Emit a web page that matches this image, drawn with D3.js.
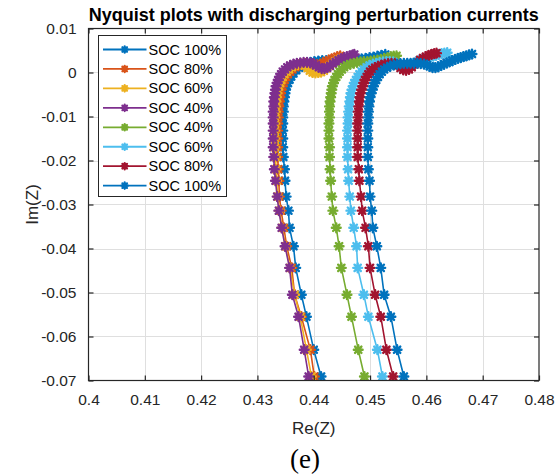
<!DOCTYPE html>
<html>
<head>
<meta charset="utf-8">
<script src="https://cdn.jsdelivr.net/npm/d3@7"></script>
<style>
  html, body { margin: 0; padding: 0; background: #fff; }
  svg { display: block; }
  text { font-family: "Liberation Sans", Arial, Helvetica, sans-serif; }
</style>
</head>
<body>
<svg id="chart" width="557" height="476"></svg>
<script>
// Nyquist data, [Re(Z), Im(Z)] from high to low frequency
const soc100a = [[0.4413,-0.0691],[0.4400,-0.0630],[0.4387,-0.0555],[0.4378,-0.0505],[0.4368,-0.0444],[0.4364,-0.0395],[0.4357,-0.0353],[0.4355,-0.0314],[0.4351,-0.0282],[0.4349,-0.0246],[0.4348,-0.0220],[0.4346,-0.0192],[0.4345,-0.0170],[0.4345,-0.0150],[0.4345,-0.0132],[0.4345,-0.0116],[0.4345,-0.0102],[0.4346,-0.0089],[0.4346,-0.0077],[0.4347,-0.0066],[0.4348,-0.0056],[0.4349,-0.0047],[0.4350,-0.0039],[0.4352,-0.0031],[0.4354,-0.0024],[0.4357,-0.0016],[0.4360,-0.0009],[0.4364,-0.0002],[0.4369,0.0005],[0.4374,0.0011],[0.4380,0.0016],[0.4387,0.0020],[0.4394,0.0023],[0.4401,0.0025],[0.4408,0.0026],[0.4415,0.0027],[0.4422,0.0027],[0.4429,0.0027],[0.4436,0.0027],[0.4443,0.0027],[0.4450,0.0028],[0.4457,0.0028],[0.4464,0.0029],[0.4471,0.0029],[0.4478,0.0030],[0.4485,0.0031],[0.4492,0.0032],[0.4499,0.0034],[0.4506,0.0035],[0.4513,0.0037],[0.4520,0.0039],[0.4527,0.0041]];
const soc80a = [[0.4401,-0.0691],[0.4394,-0.0630],[0.4378,-0.0555],[0.4366,-0.0505],[0.4361,-0.0444],[0.4352,-0.0395],[0.4347,-0.0353],[0.4342,-0.0314],[0.4339,-0.0282],[0.4338,-0.0246],[0.4337,-0.0220],[0.4336,-0.0192],[0.4336,-0.0170],[0.4336,-0.0150],[0.4336,-0.0132],[0.4336,-0.0116],[0.4337,-0.0102],[0.4337,-0.0089],[0.4338,-0.0077],[0.4339,-0.0066],[0.4340,-0.0056],[0.4341,-0.0047],[0.4342,-0.0039],[0.4344,-0.0031],[0.4346,-0.0024],[0.4348,-0.0017],[0.4351,-0.0010],[0.4354,-0.0004],[0.4358,0.0002],[0.4362,0.0007],[0.4367,0.0012],[0.4373,0.0016],[0.4379,0.0018],[0.4386,0.0020],[0.4393,0.0020],[0.4400,0.0019],[0.4406,0.0018],[0.4412,0.0019],[0.4417,0.0022],[0.4422,0.0025],[0.4427,0.0028],[0.4432,0.0031],[0.4437,0.0033],[0.4442,0.0036],[0.4447,0.0038]];
const soc60a = [[0.4396,-0.0691],[0.4387,-0.0630],[0.4376,-0.0555],[0.4366,-0.0505],[0.4358,-0.0444],[0.4350,-0.0395],[0.4344,-0.0353],[0.4339,-0.0314],[0.4336,-0.0282],[0.4334,-0.0246],[0.4333,-0.0220],[0.4332,-0.0192],[0.4331,-0.0170],[0.4331,-0.0150],[0.4331,-0.0132],[0.4331,-0.0116],[0.4331,-0.0102],[0.4332,-0.0089],[0.4332,-0.0077],[0.4333,-0.0066],[0.4334,-0.0056],[0.4335,-0.0047],[0.4336,-0.0039],[0.4338,-0.0031],[0.4340,-0.0024],[0.4342,-0.0017],[0.4345,-0.0010],[0.4348,-0.0004],[0.4352,0.0002],[0.4356,0.0007],[0.4361,0.0012],[0.4366,0.0016],[0.4372,0.0018],[0.4378,0.0019],[0.4384,0.0016],[0.4389,0.0010],[0.4393,0.0004],[0.4398,0.0000],[0.4403,-0.0001],[0.4408,0.0000],[0.4413,0.0001],[0.4418,0.0004],[0.4423,0.0009],[0.4428,0.0015],[0.4433,0.0020],[0.4438,0.0025],[0.4443,0.0029],[0.4448,0.0032]];
const soc40a = [[0.4391,-0.0691],[0.4383,-0.0630],[0.4373,-0.0555],[0.4362,-0.0505],[0.4357,-0.0444],[0.4349,-0.0395],[0.4343,-0.0353],[0.4338,-0.0314],[0.4335,-0.0282],[0.4332,-0.0246],[0.4330,-0.0220],[0.4329,-0.0192],[0.4328,-0.0170],[0.4328,-0.0150],[0.4328,-0.0132],[0.4328,-0.0116],[0.4328,-0.0102],[0.4328,-0.0089],[0.4329,-0.0077],[0.4329,-0.0066],[0.4330,-0.0056],[0.4331,-0.0047],[0.4332,-0.0039],[0.4333,-0.0031],[0.4335,-0.0024],[0.4337,-0.0017],[0.4339,-0.0010],[0.4342,-0.0004],[0.4345,0.0002],[0.4349,0.0007],[0.4353,0.0012],[0.4358,0.0016],[0.4364,0.0019],[0.4370,0.0021],[0.4376,0.0022],[0.4382,0.0023],[0.4388,0.0023],[0.4394,0.0022],[0.4399,0.0020],[0.4404,0.0016],[0.4409,0.0012],[0.4414,0.0009],[0.4419,0.0009],[0.4424,0.0011],[0.4429,0.0015],[0.4434,0.0020],[0.4439,0.0024],[0.4444,0.0028],[0.4449,0.0031],[0.4454,0.0034],[0.4459,0.0036],[0.4464,0.0038],[0.4469,0.0040],[0.4472,0.0041]];
const soc40b = [[0.4490,-0.0691],[0.4479,-0.0630],[0.4467,-0.0555],[0.4459,-0.0505],[0.4449,-0.0444],[0.4445,-0.0395],[0.4440,-0.0353],[0.4434,-0.0314],[0.4432,-0.0282],[0.4430,-0.0246],[0.4429,-0.0220],[0.4428,-0.0192],[0.4428,-0.0170],[0.4427,-0.0150],[0.4427,-0.0132],[0.4427,-0.0116],[0.4428,-0.0102],[0.4428,-0.0089],[0.4428,-0.0077],[0.4429,-0.0066],[0.4430,-0.0056],[0.4431,-0.0047],[0.4432,-0.0039],[0.4433,-0.0031],[0.4435,-0.0024],[0.4437,-0.0017],[0.4440,-0.0010],[0.4443,-0.0004],[0.4446,0.0002],[0.4450,0.0007],[0.4454,0.0012],[0.4459,0.0016],[0.4465,0.0019],[0.4471,0.0021],[0.4477,0.0023],[0.4483,0.0024],[0.4489,0.0025],[0.4495,0.0025],[0.4501,0.0026],[0.4507,0.0027],[0.4513,0.0028],[0.4519,0.0030],[0.4525,0.0032],[0.4531,0.0034],[0.4537,0.0036],[0.4542,0.0037],[0.4547,0.0038]];
const soc60b = [[0.4522,-0.0691],[0.4513,-0.0630],[0.4497,-0.0555],[0.4489,-0.0505],[0.4478,-0.0444],[0.4476,-0.0395],[0.4471,-0.0353],[0.4466,-0.0314],[0.4464,-0.0282],[0.4462,-0.0246],[0.4461,-0.0220],[0.4460,-0.0192],[0.4460,-0.0170],[0.4460,-0.0150],[0.4460,-0.0132],[0.4461,-0.0116],[0.4461,-0.0102],[0.4462,-0.0089],[0.4463,-0.0077],[0.4464,-0.0066],[0.4465,-0.0056],[0.4466,-0.0047],[0.4468,-0.0039],[0.4470,-0.0031],[0.4472,-0.0024],[0.4475,-0.0017],[0.4478,-0.0010],[0.4481,-0.0004],[0.4485,0.0002],[0.4489,0.0007],[0.4494,0.0012],[0.4499,0.0016],[0.4505,0.0019],[0.4511,0.0021],[0.4517,0.0023],[0.4523,0.0024],[0.4529,0.0025],[0.4535,0.0025],[0.4541,0.0024],[0.4547,0.0021],[0.4552,0.0016],[0.4557,0.0012],[0.4562,0.0011],[0.4567,0.0013],[0.4572,0.0017],[0.4577,0.0021],[0.4582,0.0024],[0.4587,0.0027],[0.4592,0.0029],[0.4597,0.0031],[0.4602,0.0033],[0.4607,0.0035],[0.4612,0.0037],[0.4617,0.0039],[0.4622,0.0041],[0.4627,0.0043],[0.4632,0.0044],[0.4637,0.0045]];
const soc80b = [[0.4541,-0.0691],[0.4529,-0.0630],[0.4519,-0.0555],[0.4509,-0.0505],[0.4500,-0.0444],[0.4497,-0.0395],[0.4492,-0.0353],[0.4486,-0.0314],[0.4484,-0.0282],[0.4481,-0.0246],[0.4480,-0.0220],[0.4478,-0.0192],[0.4478,-0.0170],[0.4478,-0.0150],[0.4478,-0.0132],[0.4478,-0.0116],[0.4479,-0.0102],[0.4479,-0.0089],[0.4480,-0.0077],[0.4481,-0.0066],[0.4482,-0.0056],[0.4483,-0.0047],[0.4485,-0.0039],[0.4487,-0.0031],[0.4489,-0.0024],[0.4491,-0.0017],[0.4494,-0.0010],[0.4497,-0.0004],[0.4500,0.0002],[0.4504,0.0007],[0.4509,0.0011],[0.4514,0.0014],[0.4520,0.0017],[0.4526,0.0019],[0.4532,0.0020],[0.4538,0.0021],[0.4544,0.0020],[0.4549,0.0016],[0.4554,0.0010],[0.4559,0.0006],[0.4564,0.0005],[0.4569,0.0007],[0.4574,0.0012],[0.4579,0.0018],[0.4584,0.0024],[0.4589,0.0029],[0.4594,0.0033],[0.4599,0.0036],[0.4604,0.0039],[0.4609,0.0041],[0.4614,0.0043],[0.4618,0.0044]];
const soc100b = [[0.4560,-0.0691],[0.4548,-0.0630],[0.4537,-0.0555],[0.4525,-0.0505],[0.4519,-0.0444],[0.4512,-0.0395],[0.4505,-0.0353],[0.4503,-0.0314],[0.4500,-0.0282],[0.4499,-0.0246],[0.4497,-0.0220],[0.4496,-0.0192],[0.4496,-0.0170],[0.4496,-0.0150],[0.4496,-0.0132],[0.4496,-0.0116],[0.4497,-0.0102],[0.4497,-0.0089],[0.4498,-0.0077],[0.4499,-0.0066],[0.4500,-0.0056],[0.4502,-0.0047],[0.4504,-0.0039],[0.4506,-0.0031],[0.4508,-0.0024],[0.4511,-0.0017],[0.4514,-0.0010],[0.4517,-0.0004],[0.4521,0.0002],[0.4525,0.0007],[0.4530,0.0011],[0.4536,0.0015],[0.4542,0.0017],[0.4548,0.0019],[0.4554,0.0020],[0.4560,0.0021],[0.4566,0.0021],[0.4572,0.0021],[0.4578,0.0021],[0.4584,0.0021],[0.4590,0.0020],[0.4596,0.0019],[0.4601,0.0017],[0.4606,0.0014],[0.4611,0.0011],[0.4616,0.0011],[0.4621,0.0013],[0.4626,0.0016],[0.4631,0.0019],[0.4636,0.0022],[0.4641,0.0024],[0.4646,0.0027],[0.4651,0.0030],[0.4656,0.0032],[0.4661,0.0034],[0.4666,0.0036],[0.4671,0.0038],[0.4676,0.0040],[0.4681,0.0042]];

const seriesLabels = ["SOC 100%", "SOC 80%", "SOC 60%", "SOC 40%", "SOC 40%", "SOC 60%", "SOC 80%", "SOC 100%"];
const seriesData = [soc100a, soc80a, soc60a, soc40a, soc40b, soc60b, soc80b, soc100b];
const seriesColors = ["#0072BD", "#D95319", "#EDB120", "#7E2F8E", "#77AC30", "#4DBEEE", "#A2142F", "#0072BD"];

const xTicks = [0.40, 0.41, 0.42, 0.43, 0.44, 0.45, 0.46, 0.47, 0.48];
const xTickLabels = ["0.4", "0.41", "0.42", "0.43", "0.44", "0.45", "0.46", "0.47", "0.48"];
const yTicks = [-0.07, -0.06, -0.05, -0.04, -0.03, -0.02, -0.01, 0, 0.01];
const yTickLabels = ["-0.07", "-0.06", "-0.05", "-0.04", "-0.03", "-0.02", "-0.01", "0", "0.01"];

const titleText = "Nyquist plots with discharging perturbation currents";
const xLabel = "Re(Z)";
const yLabel = "Im(Z)";
const caption = "(e)";

// layout
const plot = { left: 88.5, right: 539, top: 28.5, bottom: 380.5 };
const axisColor = "#262626";
const gridColor = "#dfdfdf";

const svg = d3.select("#chart");

const x = d3.scaleLinear().domain([0.40, 0.48]).range([plot.left, plot.right]);
const y = d3.scaleLinear().domain([-0.07, 0.01]).range([plot.bottom, plot.top]);

// grid
const grid = svg.append("g");
grid.selectAll("line.gx").data(xTicks.slice(1, -1)).join("line")
  .attr("x1", d => Math.round(x(d)) + 0.5).attr("x2", d => Math.round(x(d)) + 0.5)
  .attr("y1", plot.top).attr("y2", plot.bottom)
  .attr("stroke", gridColor).attr("stroke-width", 1);
grid.selectAll("line.gy").data(yTicks.slice(1, -1)).join("line")
  .attr("y1", d => Math.round(y(d)) + 0.5).attr("y2", d => Math.round(y(d)) + 0.5)
  .attr("x1", plot.left).attr("x2", plot.right)
  .attr("stroke", gridColor).attr("stroke-width", 1);

// clip to axes box
svg.append("defs").append("clipPath").attr("id", "plotClip")
  .append("rect")
  .attr("x", plot.left).attr("y", plot.top)
  .attr("width", plot.right - plot.left).attr("height", plot.bottom - plot.top);

// asterisk marker: plus and cross
function starPath(r) {
  const d = r * 0.72;
  return `M${-r},0L${r},0M0,${-r}L0,${r}M${-d},${-d}L${d},${d}M${-d},${d}L${d},${-d}`;
}

const line = d3.line().x(d => x(d[0])).y(d => y(d[1]));
const marks = svg.append("g").attr("clip-path", "url(#plotClip)");

seriesData.forEach((pts, i) => {
  const g = marks.append("g");
  g.append("path").datum(pts)
    .attr("d", line)
    .attr("fill", "none")
    .attr("stroke", seriesColors[i])
    .attr("stroke-width", 1.6)
    .attr("stroke-linejoin", "round");
  g.selectAll("path.m").data(pts).join("path")
    .attr("class", "m")
    .attr("transform", d => `translate(${x(d[0])},${y(d[1])})`)
    .attr("d", starPath(4.4))
    .attr("stroke", seriesColors[i])
    .attr("stroke-width", 2.4)
    .attr("stroke-linecap", "round")
    .attr("fill", "none");
});

// axes box and ticks
const axes = svg.append("g");
axes.append("rect")
  .attr("x", plot.left).attr("y", plot.top)
  .attr("width", plot.right - plot.left).attr("height", plot.bottom - plot.top)
  .attr("fill", "none").attr("stroke", axisColor).attr("stroke-width", 1.2);

const tickLen = 5;
const xAxisBottom = d3.axisBottom(x).tickValues(xTicks).tickSize(-tickLen)
  .tickFormat((d, i) => xTickLabels[i]).tickPadding(tickLen + 8);
const xAxisTop = d3.axisTop(x).tickValues(xTicks).tickSize(-tickLen).tickFormat("");
const yAxisLeft = d3.axisLeft(y).tickValues(yTicks).tickSize(-tickLen)
  .tickFormat((d, i) => yTickLabels[i]).tickPadding(tickLen + 7);
const yAxisRight = d3.axisRight(y).tickValues(yTicks).tickSize(-tickLen).tickFormat("");

function styleAxis(sel) {
  sel.select(".domain").remove();
  sel.selectAll(".tick line").attr("stroke", axisColor).attr("stroke-width", 1.2);
  sel.selectAll(".tick text")
    .attr("fill", axisColor)
    .style("font-family", '"Liberation Sans", Arial, sans-serif')
    .style("font-size", "15.5px");
}

axes.append("g").attr("transform", `translate(0,${plot.bottom})`).call(xAxisBottom).call(styleAxis);
axes.append("g").attr("transform", `translate(0,${plot.top})`).call(xAxisTop).call(styleAxis);
axes.append("g").attr("transform", `translate(${plot.left},0)`).call(yAxisLeft).call(styleAxis);
axes.append("g").attr("transform", `translate(${plot.right},0)`).call(yAxisRight).call(styleAxis);

// title and axis labels
svg.append("text")
  .attr("x", (plot.left + plot.right) / 2).attr("y", 21)
  .attr("text-anchor", "middle")
  .style("font-size", "18px").style("font-weight", "bold")
  .attr("fill", "#000")
  .text(titleText);

svg.append("text")
  .attr("x", (plot.left + plot.right) / 2).attr("y", 434)
  .attr("text-anchor", "middle")
  .style("font-size", "17px")
  .attr("fill", axisColor)
  .text(xLabel);

svg.append("text")
  .attr("transform", `translate(38,${(plot.top + plot.bottom) / 2}) rotate(-90)`)
  .attr("text-anchor", "middle")
  .style("font-size", "17px")
  .attr("fill", axisColor)
  .text(yLabel);

svg.append("text")
  .attr("x", 305).attr("y", 468)
  .attr("text-anchor", "middle")
  .style("font-family", '"Liberation Serif", "Times New Roman", serif')
  .style("font-size", "27px")
  .attr("fill", "#000")
  .text(caption);

// legend
const legend = svg.append("g");
const lg = { x: 98.5, y: 35.5, w: 128, h: 161, row0: 49.5, step: 19.45 };
legend.append("rect")
  .attr("x", lg.x).attr("y", lg.y).attr("width", lg.w).attr("height", lg.h)
  .attr("fill", "#fff").attr("stroke", axisColor).attr("stroke-width", 1);

seriesLabels.forEach((label, i) => {
  const cy = lg.row0 + i * lg.step;
  legend.append("line")
    .attr("x1", 103).attr("x2", 146.5).attr("y1", cy).attr("y2", cy)
    .attr("stroke", seriesColors[i]).attr("stroke-width", 1.8);
  legend.append("path")
    .attr("transform", `translate(124.7,${cy})`)
    .attr("d", starPath(3.2))
    .attr("stroke", seriesColors[i]).attr("stroke-width", 2.2)
    .attr("stroke-linecap", "round").attr("fill", "none");
  legend.append("text")
    .attr("x", 148.5).attr("y", cy + 5)
    .style("font-size", "14.5px")
    .attr("fill", "#000")
    .text(label);
});
</script>
</body>
</html>
